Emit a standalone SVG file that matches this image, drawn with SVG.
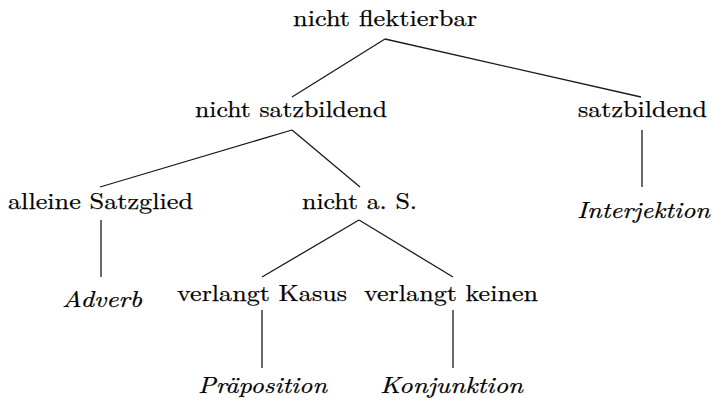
<svg xmlns="http://www.w3.org/2000/svg" width="714" height="402" viewBox="0 0 714 402">
  <style>
    .leaf { font-style: italic; }
    .edge { stroke: #1a1a1a; stroke-width: 1.3; fill: none; }
  </style>
  <rect width="714" height="402" fill="#ffffff"/>

  <g id="connectors">
    <line class="edge" x1="385" y1="39" x2="292" y2="97"/>
    <line class="edge" x1="385" y1="39" x2="641" y2="97"/>
    <line class="edge" x1="642" y1="130" x2="642" y2="187"/>
    <line class="edge" x1="292" y1="130" x2="100" y2="187"/>
    <line class="edge" x1="292" y1="130" x2="360" y2="187"/>
    <line class="edge" x1="101" y1="220" x2="101" y2="277"/>
    <line class="edge" x1="359" y1="220" x2="262" y2="277"/>
    <line class="edge" x1="359" y1="220" x2="453" y2="277"/>
    <line class="edge" x1="262" y1="310" x2="262" y2="368"/>
    <line class="edge" x1="453" y1="310" x2="453" y2="368"/>
  </g>

  <g font-family="'Latin Modern Roman', 'Liberation Serif', serif" font-size="23" fill="#000" stroke="#000" stroke-width="0.25">
    <g id="node-root"><text x="293" y="26" textLength="184" lengthAdjust="spacingAndGlyphs">nicht flektierbar</text></g>
    <g id="node-nicht-satzbildend"><text x="195" y="117" textLength="192" lengthAdjust="spacingAndGlyphs">nicht satzbildend</text></g>
    <g id="node-satzbildend"><text x="578" y="117" textLength="129" lengthAdjust="spacingAndGlyphs">satzbildend</text></g>
    <g id="node-interjektion"><text class="leaf" x="577" y="218" textLength="133" lengthAdjust="spacingAndGlyphs">Interjektion</text></g>
    <g id="node-alleine-satzglied"><text x="8" y="209" textLength="185" lengthAdjust="spacingAndGlyphs">alleine Satzglied</text></g>
    <g id="node-nicht-as"><text x="302" y="209" textLength="115" lengthAdjust="spacingAndGlyphs">nicht a. S.</text></g>
    <g id="node-adverb"><text class="leaf" x="62" y="307" textLength="80" lengthAdjust="spacingAndGlyphs">Adverb</text></g>
    <g id="node-verlangt-kasus"><text x="177" y="301" textLength="170" lengthAdjust="spacingAndGlyphs">verlangt Kasus</text></g>
    <g id="node-verlangt-keinen"><text x="364" y="301" textLength="174" lengthAdjust="spacingAndGlyphs">verlangt keinen</text></g>
    <g id="node-praeposition"><text class="leaf" x="198" y="393" textLength="129" lengthAdjust="spacingAndGlyphs">Präposition</text></g>
    <g id="node-konjunktion"><text class="leaf" x="380" y="393" textLength="143" lengthAdjust="spacingAndGlyphs">Konjunktion</text></g>
  </g>
</svg>
